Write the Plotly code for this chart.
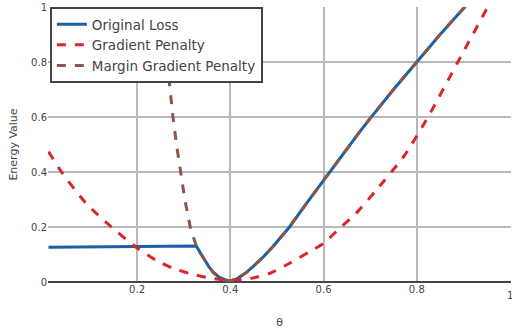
import plotly.graph_objects as go

# --- data ---
theta_orig = [0.01, 0.1, 0.2, 0.3, 0.327, 0.336, 0.345, 0.354, 0.363, 0.374, 0.384, 0.392, 0.4,
              0.41, 0.42, 0.434, 0.448, 0.47, 0.491, 0.527, 0.563, 0.6, 0.634, 0.677, 0.7,
              0.75, 0.8, 0.85, 0.9, 0.95, 1.0]
loss_orig = [0.126, 0.127, 0.128, 0.130, 0.131, 0.105, 0.080, 0.056, 0.036, 0.020, 0.011, 0.006, 0.004,
             0.008, 0.018, 0.034, 0.055, 0.09, 0.128, 0.20, 0.285, 0.37, 0.45, 0.545, 0.595,
             0.70, 0.80, 0.90, 0.995, 1.09, 1.18]

theta_gp = [0.01, 0.038, 0.091, 0.145, 0.198, 0.241, 0.277, 0.315, 0.349, 0.375, 0.4, 0.425, 0.45,
            0.484, 0.527, 0.57, 0.6, 0.634, 0.67, 0.713, 0.774, 0.824, 0.888, 0.952, 1.0]
loss_gp = [0.474, 0.40, 0.285, 0.20, 0.126, 0.079, 0.05, 0.03, 0.017, 0.01, 0.007, 0.009, 0.015,
           0.031, 0.068, 0.11, 0.14, 0.195, 0.25, 0.334, 0.461, 0.60, 0.80, 1.0, 1.15]

theta_mgp_left = [0.24, 0.255, 0.268, 0.277, 0.285, 0.293, 0.303, 0.314, 0.321]
loss_mgp_left = [1.2, 0.95, 0.735, 0.60, 0.495, 0.40, 0.295, 0.20, 0.16]

series_names = ["Original Loss", "Gradient Penalty", "Margin Gradient Penalty"]
y_ticks = [0, 0.2, 0.4, 0.6, 0.8, 1]
x_ticks = [0.2, 0.4, 0.6, 0.8, 1]

# margin gradient penalty joins the original loss after the kink
kink = theta_orig.index(0.327)
theta_mgp = theta_mgp_left + theta_orig[kink:]
loss_mgp = loss_mgp_left + loss_orig[kink:]

fig = go.Figure()
fig.add_trace(go.Scatter(x=theta_orig, y=loss_orig, mode="lines", name=series_names[0],
                         line=dict(color="#1c5fa6", width=3)))
fig.add_trace(go.Scatter(x=theta_gp, y=loss_gp, mode="lines", name=series_names[1],
                         line=dict(color="#d9262b", width=3, dash="dash", shape="spline", smoothing=0.6)))
fig.add_trace(go.Scatter(x=theta_mgp, y=loss_mgp, mode="lines", name=series_names[2],
                         line=dict(color="#8c564b", width=3, dash="dash")))

# the last x tick label sits on the right edge of the figure (half cut off)
fig.add_annotation(x=x_ticks[-1], y=0, xref="x", yref="paper", text=f"{x_ticks[-1]:g}",
                   showarrow=False, xanchor="center", yanchor="top", yshift=-6,
                   font=dict(size=10, color="#444"))

x_ticktext = [f"{v:g}" for v in x_ticks[:-1]] + [""]

fig.update_layout(
    width=512, height=333,
    margin=dict(l=48, r=1, t=7, b=51),
    paper_bgcolor="white", plot_bgcolor="white",
    font=dict(family="DejaVu Sans", size=10, color="#444"),
    legend=dict(x=0.004, y=1, xanchor="left", yanchor="top",
                bgcolor="white", bordercolor="#444", borderwidth=2,
                font=dict(size=13.5, color="#444")),
    xaxis=dict(range=[0.009, 1.002], tickvals=x_ticks, ticktext=x_ticktext,
               showgrid=True, gridcolor="#b8b8b8", gridwidth=2,
               zeroline=False, showline=False,
               title=dict(text="θ", font=dict(size=11), standoff=24)),
    yaxis=dict(range=[0, 1], tickvals=y_ticks, ticktext=[f"{v:g}" for v in y_ticks],
               showgrid=True, gridcolor="#b8b8b8", gridwidth=2,
               zeroline=True, zerolinecolor="#444", zerolinewidth=2,
               title=dict(text="Energy Value", font=dict(size=11), standoff=11)),
)

fig.write_html("out.html", config={"displayModeBar": False},
               post_script="document.body.style.margin='0';")
